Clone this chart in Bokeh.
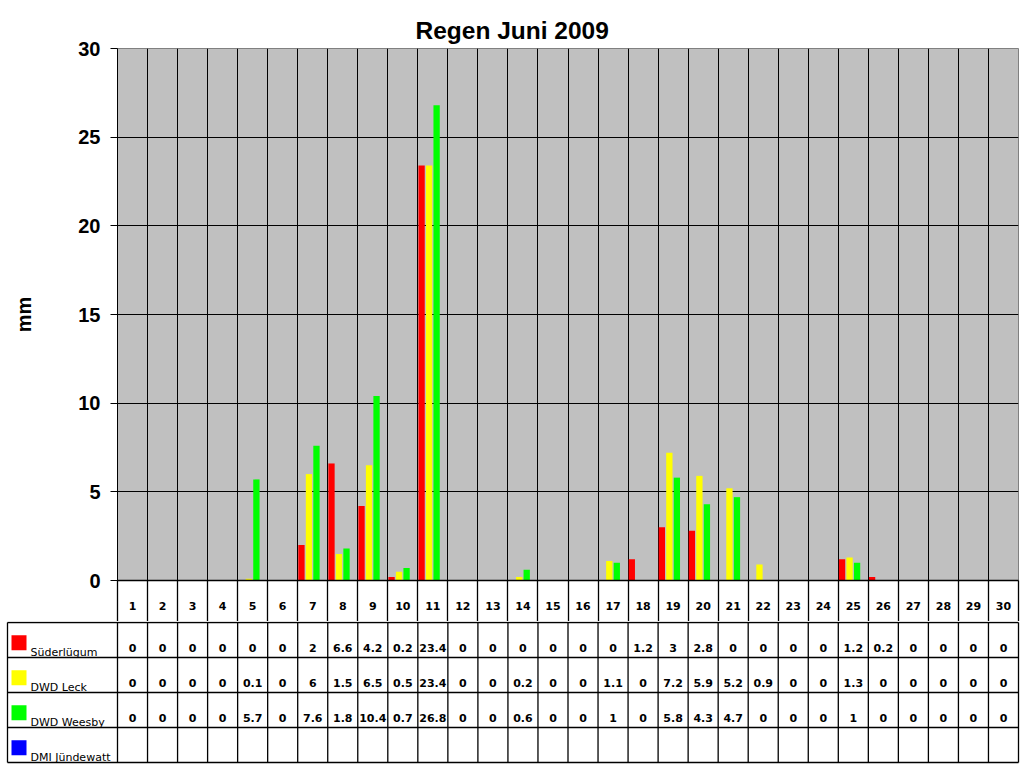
from bokeh.plotting import figure
from bokeh.models import Range1d, FixedTicker
from bokeh.layouts import column
from bokeh.core.properties import value
from bokeh.embed import file_html
from bokeh.resources import INLINE

# daily rain in mm, June 2009
days = list(range(1, 31))
suederluegum = [0, 0, 0, 0, 0, 0, 2, 6.6, 4.2, 0.2, 23.4, 0, 0, 0, 0,
                0, 0, 1.2, 3, 2.8, 0, 0, 0, 0, 1.2, 0.2, 0, 0, 0, 0]
dwd_leck = [0, 0, 0, 0, 0.1, 0, 6, 1.5, 6.5, 0.5, 23.4, 0, 0, 0.2, 0,
            0, 1.1, 0, 7.2, 5.9, 5.2, 0.9, 0, 0, 1.3, 0, 0, 0, 0, 0]
dwd_weesby = [0, 0, 0, 0, 5.7, 0, 7.6, 1.8, 10.4, 0.7, 26.8, 0, 0, 0.6, 0,
              0, 1, 0, 5.8, 4.3, 4.7, 0, 0, 0, 1, 0, 0, 0, 0, 0]
dmi_juendewatt = []  # no data this month

stations = ["Süderlügum", "DWD Leck", "DWD Weesby", "DMI Jündewatt"]
series = [suederluegum, dwd_leck, dwd_weesby, dmi_juendewatt]
colors = ["#FF0000", "#FFFF00", "#00FF00", "#0000FF"]
y_ticks = [0, 5, 10, 15, 20, 25, 30]

centers = [d - 0.5 for d in days]
bounds = list(range(31))

# chart part, its x axis is the header row of the table
p = figure(width=1020, height=621, x_range=Range1d(0, 30), y_range=Range1d(0, 30),
           toolbar_location=None, output_backend="svg",
           min_border_left=117, min_border_right=2, min_border_top=48, min_border_bottom=41,
           title="Regen Juni 2009")
p.frame_align = False
p.background_fill_color = "#C0C0C0"
p.outline_line_color = "#808080"

p.title.text_font = "Liberation Sans"
p.title.text_font_size = "24.5px"
p.title.text_font_style = "bold"
p.title.text_color = "black"
p.title.align = "left"
p.title.offset = 298

p.xgrid.ticker = FixedTicker(ticks=bounds)
p.xgrid.grid_line_color = "black"
p.ygrid.ticker = FixedTicker(ticks=y_ticks)
p.ygrid.grid_line_color = "black"

p.xaxis.ticker = FixedTicker(ticks=centers, minor_ticks=bounds)
p.xaxis.major_label_overrides = {c: str(d) for c, d in zip(centers, days)}
p.xaxis.axis_line_color = "black"
p.xaxis.axis_line_width = 1.3
p.xaxis.major_tick_out = 0
p.xaxis.major_tick_in = 0
p.xaxis.minor_tick_out = 41
p.xaxis.minor_tick_in = 0
p.xaxis.minor_tick_line_color = "black"
p.xaxis.minor_tick_line_width = 1.3
p.xaxis.major_label_standoff = -20
p.xaxis.major_label_text_font = "DejaVu Sans"
p.xaxis.major_label_text_font_size = "11px"
p.xaxis.major_label_text_font_style = "bold"
p.xaxis.major_label_text_color = "black"

p.yaxis.ticker = FixedTicker(ticks=y_ticks)
p.yaxis.axis_line_color = "black"
p.yaxis.major_tick_out = 7
p.yaxis.major_tick_in = 0
p.yaxis.minor_tick_line_color = None
p.yaxis.major_label_standoff = 10
p.yaxis.major_label_text_font = "Liberation Sans"
p.yaxis.major_label_text_font_size = "20px"
p.yaxis.major_label_text_font_style = "bold"
p.yaxis.major_label_text_color = "black"
p.yaxis.axis_label = "mm"
p.yaxis.axis_label_text_font = "Liberation Sans"
p.yaxis.axis_label_text_font_size = "20px"
p.yaxis.axis_label_text_font_style = "bold"
p.yaxis.axis_label_text_color = "black"
p.yaxis.axis_label_standoff = 40

# four bars per day, side by side
offsets = [-0.375, -0.125, 0.125, 0.375]
for vals, col, off in zip(series, colors, offsets):
    if not vals:
        continue
    p.vbar(x=[c + off for c in centers], top=vals, width=0.21,
           fill_color=col, line_color=None)

# data rows below the chart
px = 30 / 901  # one pixel in day units
x_start = -117 * px
x_end = x_start + 1020 * px
lbl_left = x_start + 7 * px
rp = 1 / 35  # one pixel in row units
t = figure(width=1020, height=144, x_range=Range1d(x_start, x_end), y_range=Range1d(-3 * rp, 4 + rp),
           x_axis_location=None, y_axis_location=None, toolbar_location=None,
           output_backend="svg", min_border=0)
t.frame_align = False
t.grid.visible = False
t.outline_line_color = None

# cell borders
x0s, x1s, y0s, y1s = [], [], [], []
for b in bounds + [lbl_left]:
    x0s.append(b); x1s.append(b); y0s.append(0); y1s.append(4)
for r in range(5):
    x0s.append(lbl_left); x1s.append(30); y0s.append(r); y1s.append(r)
t.segment(x0=x0s, y0=y0s, x1=x1s, y1=y1s, line_color="black", line_width=1.3)

for k, vals in enumerate(series):
    if not vals:
        continue
    t.text(x=centers, y=[3 - k + 0.26] * 30, text=[f"{v:g}" for v in vals],
           text_align="center", text_baseline="middle", text_font=value("DejaVu Sans"),
           text_font_size="11px", text_font_style="bold", text_color="black")

rows_y = [3 - k for k in range(len(stations))]
t.scatter(x=[x_start + 18.5 * px] * 4, y=[r + 0.42 for r in rows_y], marker="square",
          size=15, fill_color=colors, line_color=None)
t.text(x=[x_start + 30 * px] * 4, y=[r + 0.15 for r in rows_y], text=stations,
       text_align="left", text_baseline="alphabetic", text_font=value("DejaVu Sans"),
       text_font_size="11px", text_color="black")

layout = column(p, t, spacing=0)
open("out.html", "w").write(file_html(layout, INLINE))
